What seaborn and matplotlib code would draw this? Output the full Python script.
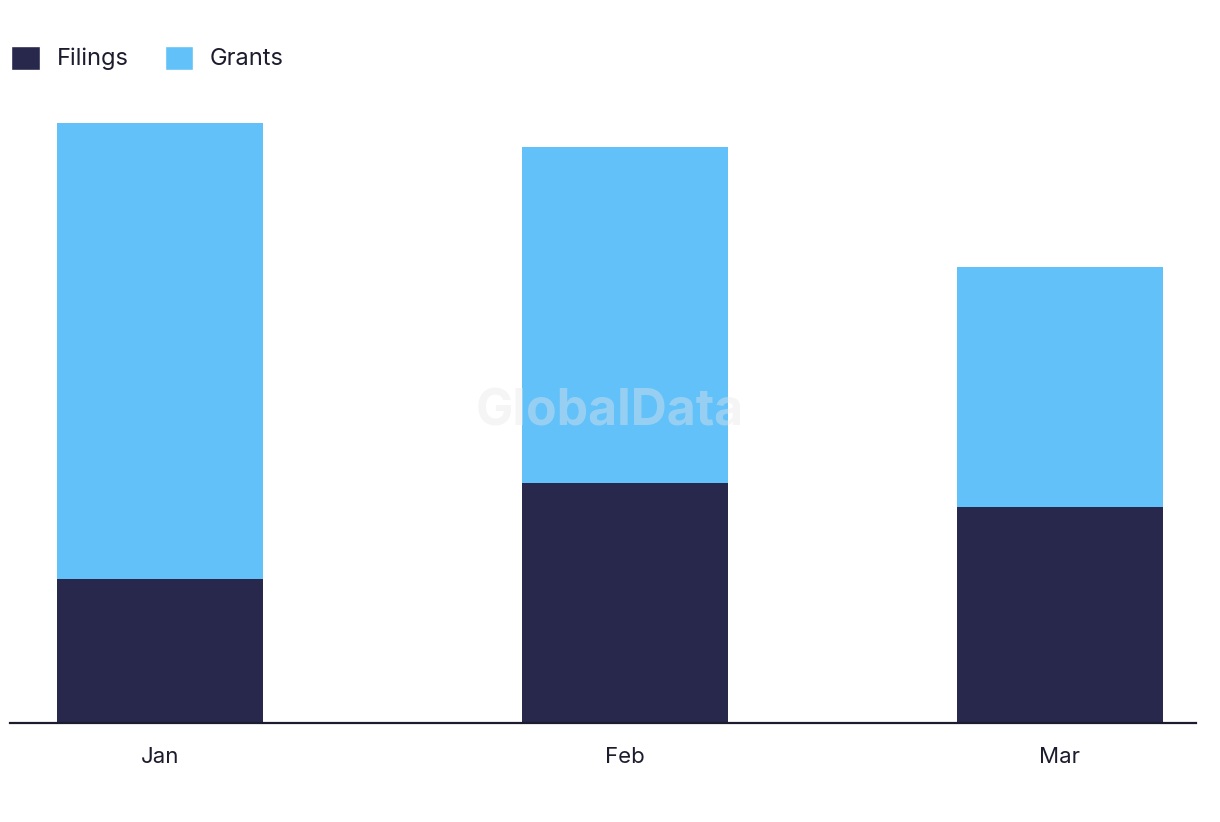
import pandas as pd
import numpy as np
import matplotlib
matplotlib.use("Agg")
import matplotlib.pyplot as plt
import seaborn as sns
from matplotlib.patches import Patch

months = ["2024-01-01", "2024-02-01", "2024-03-01"]
month_labels = ["Jan", "Feb", "Mar"]
filings = [12, 20, 18]
grants = [38, 28, 20]

FILINGS_COLOR = "#27284b"
GRANTS_COLOR = "#62c1f9"
TEXT_COLOR = "#1c1c2e"

dates = pd.to_datetime(months)
day = (dates - dates[0]).days.astype(float)
df = pd.DataFrame({
    "day": day,
    "filings": filings,
    "total": np.array(filings) + np.array(grants),
})

sns.set_theme(style="white")
plt.rcParams["font.family"] = ["Inter", "DejaVu Sans"]

fig = plt.figure(figsize=(12.2, 8.22), dpi=100)
ax = fig.add_axes([10 / 1220, 99 / 822, 1186 / 1220, 623 / 822])

bar_days = 13.73
w = bar_days / np.diff(day).min()
sns.barplot(data=df, x="day", y="total", native_scale=True, width=w,
            color=GRANTS_COLOR, saturation=1, linewidth=0, ax=ax)
sns.barplot(data=df, x="day", y="filings", native_scale=True, width=w,
            color=FILINGS_COLOR, saturation=1, linewidth=0, ax=ax)

ax.set_xlim(day[0] - 10, day[-1] + 9.07)
ax.set_ylim(0, 51.9)
ax.set_xticks(day)
ax.set_xticklabels(month_labels, fontsize=16, color=TEXT_COLOR)
ax.set_yticks([])
ax.set_xlabel("")
ax.set_ylabel("")
ax.tick_params(axis="x", length=0, pad=17)
for s in ["top", "left", "right"]:
    ax.spines[s].set_visible(False)
ax.spines["bottom"].set_color(TEXT_COLOR)
ax.spines["bottom"].set_linewidth(1.6)

# watermark
ax.text(0.506, 0.499, "GlobalData", transform=ax.transAxes, ha="center", va="center",
        fontsize=36, fontweight="bold", color="#e6e6e6", alpha=0.4, zorder=5)

handles = [Patch(facecolor=FILINGS_COLOR, label="Filings"),
           Patch(facecolor=GRANTS_COLOR, label="Grants")]
fig.legend(handles=handles, loc="center left", bbox_to_anchor=(2 / 1220, 1 - 58 / 822),
           ncol=2, frameon=False, fontsize=17, labelcolor=TEXT_COLOR,
           handlelength=1.19, handleheight=1.19, handletextpad=0.72,
           columnspacing=1.55, borderaxespad=0)

fig.savefig("out.png", dpi=100, facecolor="white")
